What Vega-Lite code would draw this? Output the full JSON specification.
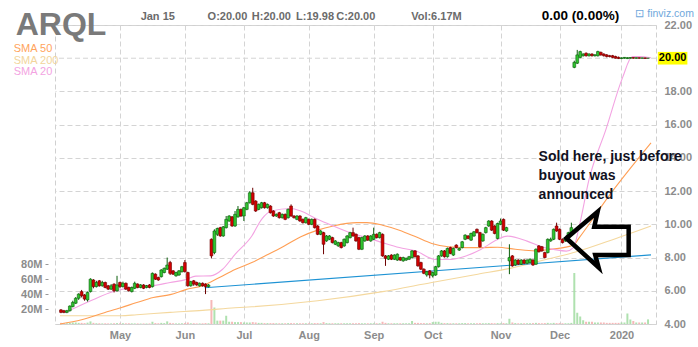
{
"$schema":"https://vega.github.io/schema/vega-lite/v6.json",
"width":601,"height":299,
"autosize":"none",
"padding":{"left":55,"top":25,"right":42,"bottom":23},
"background":"white",
"config":{
 "font":"Liberation Sans",
 "view":{"stroke":"#d0d0d0","strokeDash":[5,3],"strokeWidth":1},
 "axis":{"labelFont":"Liberation Sans","labelFontSize":11,"labelFontWeight":"bold","labelColor":"#8c8c8c","gridColor":"#d4d4d4","gridDash":[5,3],"domain":false,"ticks":false,"title":null,"labelOverlap":false}
},
"datasets":{
"ohlc":[
{"i":0,"o":4.85,"h":4.9,"l":4.65,"c":4.7,"v":1.5},
{"i":1,"o":4.8,"h":4.85,"l":4.65,"c":4.7,"v":1.2},
{"i":2,"o":4.7,"h":4.85,"l":4.65,"c":4.8,"v":1.0},
{"i":3,"o":4.8,"h":5.12,"l":4.75,"c":5.08,"v":1.5},
{"i":4,"o":5.05,"h":5.4,"l":5.0,"c":5.3,"v":2.0},
{"i":5,"o":5.25,"h":5.62,"l":5.2,"c":5.55,"v":2.0},
{"i":6,"o":5.55,"h":5.85,"l":5.45,"c":5.8,"v":1.5},
{"i":7,"o":5.95,"h":6.05,"l":5.6,"c":5.7,"v":1.5},
{"i":8,"o":5.75,"h":5.8,"l":5.4,"c":5.5,"v":1.2},
{"i":9,"o":5.45,"h":5.95,"l":5.35,"c":5.9,"v":1.8},
{"i":10,"o":5.95,"h":6.75,"l":5.9,"c":6.7,"v":3.5},
{"i":11,"o":6.65,"h":6.7,"l":6.15,"c":6.25,"v":1.5},
{"i":12,"o":6.25,"h":6.6,"l":6.2,"c":6.5,"v":1.0},
{"i":13,"o":6.6,"h":6.65,"l":6.25,"c":6.3,"v":1.0},
{"i":14,"o":6.3,"h":6.6,"l":6.25,"c":6.5,"v":0.8},
{"i":15,"o":6.5,"h":6.55,"l":6.15,"c":6.2,"v":0.9},
{"i":16,"o":6.3,"h":6.35,"l":6.05,"c":6.1,"v":0.8},
{"i":17,"o":6.1,"h":6.4,"l":6.05,"c":6.3,"v":0.8},
{"i":18,"o":6.4,"h":6.45,"l":5.9,"c":6.0,"v":1.0},
{"i":19,"o":6.0,"h":6.9,"l":5.95,"c":6.35,"v":1.2},
{"i":20,"o":6.5,"h":6.55,"l":6.15,"c":6.25,"v":1.0},
{"i":21,"o":6.25,"h":6.55,"l":6.2,"c":6.45,"v":1.0},
{"i":22,"o":6.45,"h":6.5,"l":6.05,"c":6.1,"v":0.9},
{"i":23,"o":6.2,"h":6.25,"l":5.95,"c":6.0,"v":1.0},
{"i":24,"o":5.95,"h":6.25,"l":5.9,"c":6.2,"v":0.9},
{"i":25,"o":6.15,"h":6.55,"l":6.1,"c":6.45,"v":0.8},
{"i":26,"o":6.4,"h":6.45,"l":6.15,"c":6.2,"v":0.8},
{"i":27,"o":6.2,"h":6.4,"l":6.15,"c":6.35,"v":0.7},
{"i":28,"o":6.35,"h":6.4,"l":6.1,"c":6.15,"v":0.8},
{"i":29,"o":6.2,"h":6.35,"l":6.15,"c":6.3,"v":0.7},
{"i":30,"o":6.35,"h":6.4,"l":6.15,"c":6.2,"v":0.8},
{"i":31,"o":6.25,"h":7.1,"l":6.2,"c":7.05,"v":3.0},
{"i":32,"o":7.0,"h":7.05,"l":6.65,"c":6.7,"v":1.2},
{"i":33,"o":6.8,"h":6.85,"l":6.6,"c":6.65,"v":1.0},
{"i":34,"o":6.85,"h":7.3,"l":6.8,"c":7.25,"v":1.5},
{"i":35,"o":7.1,"h":7.4,"l":7.05,"c":7.35,"v":1.2},
{"i":36,"o":7.3,"h":8.0,"l":7.25,"c":7.55,"v":3.5},
{"i":37,"o":7.7,"h":7.8,"l":6.95,"c":7.05,"v":1.5},
{"i":38,"o":7.2,"h":7.25,"l":6.95,"c":7.0,"v":1.0},
{"i":39,"o":6.9,"h":7.15,"l":6.85,"c":7.1,"v":0.8},
{"i":40,"o":6.95,"h":7.25,"l":6.9,"c":7.2,"v":0.8},
{"i":41,"o":7.15,"h":7.5,"l":7.1,"c":7.45,"v":1.0},
{"i":42,"o":7.7,"h":7.85,"l":7.1,"c":7.15,"v":1.2},
{"i":43,"o":7.1,"h":7.15,"l":6.25,"c":6.3,"v":2.0},
{"i":44,"o":6.3,"h":6.6,"l":6.25,"c":6.55,"v":1.0},
{"i":45,"o":6.6,"h":6.65,"l":6.3,"c":6.4,"v":1.0},
{"i":46,"o":6.5,"h":6.55,"l":6.3,"c":6.35,"v":0.8},
{"i":47,"o":6.3,"h":6.5,"l":6.25,"c":6.45,"v":0.8},
{"i":48,"o":6.45,"h":6.5,"l":6.25,"c":6.3,"v":0.9},
{"i":49,"o":6.4,"h":6.45,"l":5.8,"c":6.25,"v":1.2},
{"i":50,"o":6.25,"h":6.4,"l":6.2,"c":6.35,"v":1.0},
{"i":51,"o":9.1,"h":9.15,"l":7.95,"c":8.1,"v":32},
{"i":52,"o":8.3,"h":9.7,"l":8.2,"c":9.6,"v":22},
{"i":53,"o":9.4,"h":9.8,"l":9.3,"c":9.75,"v":4.5},
{"i":54,"o":9.8,"h":9.85,"l":9.25,"c":9.3,"v":4.5},
{"i":55,"o":9.3,"h":9.9,"l":9.25,"c":9.85,"v":4.5},
{"i":56,"o":9.8,"h":10.5,"l":9.75,"c":10.3,"v":11},
{"i":57,"o":10.2,"h":10.55,"l":10.15,"c":10.5,"v":3},
{"i":58,"o":10.45,"h":10.5,"l":9.85,"c":9.9,"v":3},
{"i":59,"o":9.9,"h":10.8,"l":9.85,"c":10.6,"v":2.5},
{"i":60,"o":10.45,"h":11.1,"l":10.4,"c":10.9,"v":2.5},
{"i":61,"o":10.9,"h":10.95,"l":10.45,"c":10.5,"v":2.5},
{"i":62,"o":10.5,"h":11.05,"l":10.2,"c":11.0,"v":2},
{"i":63,"o":10.9,"h":11.35,"l":10.85,"c":11.3,"v":2},
{"i":64,"o":11.3,"h":12.0,"l":11.25,"c":11.9,"v":2},
{"i":65,"o":11.9,"h":12.2,"l":11.15,"c":11.2,"v":2.5},
{"i":66,"o":11.4,"h":11.45,"l":10.75,"c":10.8,"v":2},
{"i":67,"o":10.9,"h":11.25,"l":10.85,"c":11.2,"v":1.5},
{"i":68,"o":11.0,"h":11.35,"l":10.95,"c":11.3,"v":1.5},
{"i":69,"o":11.3,"h":11.35,"l":10.95,"c":11.0,"v":1.2},
{"i":70,"o":11.0,"h":11.25,"l":10.95,"c":11.2,"v":1.2},
{"i":71,"o":11.1,"h":11.15,"l":10.65,"c":10.7,"v":1.2},
{"i":72,"o":10.8,"h":10.85,"l":10.45,"c":10.5,"v":1.2},
{"i":73,"o":10.5,"h":10.65,"l":10.45,"c":10.6,"v":1.0},
{"i":74,"o":10.7,"h":10.75,"l":10.35,"c":10.4,"v":1.0},
{"i":75,"o":10.4,"h":10.65,"l":10.35,"c":10.6,"v":1.0},
{"i":76,"o":10.6,"h":10.65,"l":10.25,"c":10.3,"v":1.0},
{"i":77,"o":10.4,"h":10.95,"l":10.35,"c":10.9,"v":1.2},
{"i":78,"o":11.1,"h":11.2,"l":10.45,"c":10.5,"v":1.2},
{"i":79,"o":10.5,"h":10.55,"l":10.35,"c":10.4,"v":1.0},
{"i":80,"o":10.3,"h":10.55,"l":10.25,"c":10.5,"v":1.0},
{"i":81,"o":10.5,"h":10.55,"l":10.15,"c":10.2,"v":1.0},
{"i":82,"o":10.3,"h":10.35,"l":10.05,"c":10.1,"v":1.0},
{"i":83,"o":10.1,"h":10.45,"l":10.05,"c":10.4,"v":1.0},
{"i":84,"o":10.3,"h":10.35,"l":9.95,"c":10.0,"v":1.0},
{"i":85,"o":10.0,"h":10.35,"l":9.95,"c":10.3,"v":1.0},
{"i":86,"o":10.3,"h":10.35,"l":9.75,"c":9.8,"v":1.2},
{"i":87,"o":9.9,"h":9.95,"l":9.35,"c":9.4,"v":1.2},
{"i":88,"o":9.4,"h":9.65,"l":9.35,"c":9.6,"v":1.0},
{"i":89,"o":9.5,"h":9.55,"l":8.2,"c":8.8,"v":2.5},
{"i":90,"o":9.0,"h":9.35,"l":8.95,"c":9.3,"v":1.2},
{"i":91,"o":9.1,"h":9.35,"l":9.05,"c":9.3,"v":1.0},
{"i":92,"o":9.2,"h":9.25,"l":8.85,"c":8.9,"v":1.0},
{"i":93,"o":8.8,"h":9.05,"l":8.75,"c":9.0,"v":1.0},
{"i":94,"o":8.7,"h":8.95,"l":8.65,"c":8.9,"v":1.0},
{"i":95,"o":8.9,"h":8.95,"l":8.55,"c":8.6,"v":1.0},
{"i":96,"o":8.7,"h":9.15,"l":8.65,"c":9.1,"v":1.0},
{"i":97,"o":8.9,"h":9.35,"l":8.85,"c":9.3,"v":1.0},
{"i":98,"o":9.2,"h":9.55,"l":9.15,"c":9.5,"v":1.0},
{"i":99,"o":9.5,"h":9.8,"l":9.25,"c":9.3,"v":1.0},
{"i":100,"o":9.4,"h":9.45,"l":8.95,"c":9.0,"v":1.0},
{"i":101,"o":9.2,"h":9.25,"l":8.45,"c":8.5,"v":1.2},
{"i":102,"o":8.5,"h":9.25,"l":8.45,"c":9.2,"v":1.0},
{"i":103,"o":9.0,"h":9.35,"l":8.95,"c":9.3,"v":1.0},
{"i":104,"o":9.3,"h":9.35,"l":9.0,"c":9.05,"v":1.0},
{"i":105,"o":9.0,"h":9.35,"l":8.95,"c":9.3,"v":1.0},
{"i":106,"o":9.1,"h":9.8,"l":9.05,"c":9.4,"v":1.0},
{"i":107,"o":9.4,"h":9.45,"l":9.15,"c":9.2,"v":1.0},
{"i":108,"o":9.2,"h":9.55,"l":9.15,"c":9.5,"v":1.0},
{"i":109,"o":9.4,"h":9.45,"l":8.05,"c":8.1,"v":3},
{"i":110,"o":8.1,"h":8.15,"l":7.5,"c":7.95,"v":1.5},
{"i":111,"o":7.9,"h":8.15,"l":7.85,"c":8.1,"v":1.0},
{"i":112,"o":8.15,"h":8.2,"l":7.85,"c":7.9,"v":1.0},
{"i":113,"o":7.9,"h":8.2,"l":7.85,"c":8.15,"v":1.0},
{"i":114,"o":7.85,"h":8.25,"l":7.8,"c":8.2,"v":1.0},
{"i":115,"o":8.0,"h":8.05,"l":7.8,"c":7.85,"v":1.0},
{"i":116,"o":7.8,"h":8.05,"l":7.75,"c":8.0,"v":1.0},
{"i":117,"o":7.85,"h":8.0,"l":7.8,"c":7.95,"v":1.0},
{"i":118,"o":7.9,"h":8.1,"l":7.85,"c":8.05,"v":1.0},
{"i":119,"o":8.0,"h":8.45,"l":7.95,"c":8.4,"v":4},
{"i":120,"o":8.4,"h":8.45,"l":8.0,"c":8.05,"v":1.5},
{"i":121,"o":8.1,"h":8.15,"l":7.45,"c":7.5,"v":1.5},
{"i":122,"o":7.7,"h":7.75,"l":7.25,"c":7.3,"v":1.2},
{"i":123,"o":7.3,"h":7.35,"l":7.0,"c":7.05,"v":1.2},
{"i":124,"o":6.95,"h":7.2,"l":6.85,"c":7.15,"v":1.0},
{"i":125,"o":7.2,"h":7.25,"l":6.75,"c":6.95,"v":1.2},
{"i":126,"o":6.9,"h":7.15,"l":6.8,"c":7.1,"v":2.5},
{"i":127,"o":6.95,"h":7.5,"l":6.9,"c":7.45,"v":3},
{"i":128,"o":7.45,"h":8.15,"l":7.4,"c":8.1,"v":3},
{"i":129,"o":8.1,"h":8.45,"l":8.05,"c":8.4,"v":1.5},
{"i":130,"o":8.4,"h":8.45,"l":8.0,"c":8.05,"v":1.2},
{"i":131,"o":8.05,"h":8.6,"l":8.0,"c":8.55,"v":1.2},
{"i":132,"o":8.6,"h":8.65,"l":8.2,"c":8.25,"v":1.0},
{"i":133,"o":8.15,"h":8.6,"l":8.1,"c":8.55,"v":1.0},
{"i":134,"o":8.75,"h":8.8,"l":8.55,"c":8.6,"v":1.0},
{"i":135,"o":8.45,"h":8.6,"l":8.4,"c":8.55,"v":1.0},
{"i":136,"o":8.6,"h":9.0,"l":8.55,"c":8.95,"v":1.2},
{"i":137,"o":9.1,"h":9.4,"l":9.05,"c":9.35,"v":1.2},
{"i":138,"o":9.3,"h":9.35,"l":9.1,"c":9.15,"v":1.0},
{"i":139,"o":9.05,"h":9.5,"l":9.0,"c":9.45,"v":1.0},
{"i":140,"o":9.3,"h":9.6,"l":9.25,"c":9.55,"v":1.0},
{"i":141,"o":9.7,"h":9.75,"l":9.45,"c":9.5,"v":1.0},
{"i":142,"o":9.5,"h":9.55,"l":8.6,"c":8.65,"v":1.2},
{"i":143,"o":9.0,"h":9.45,"l":8.95,"c":9.4,"v":1.0},
{"i":144,"o":9.5,"h":9.85,"l":9.45,"c":9.8,"v":1.0},
{"i":145,"o":9.9,"h":10.25,"l":9.85,"c":10.2,"v":1.2},
{"i":146,"o":10.2,"h":10.25,"l":9.6,"c":9.65,"v":1.2},
{"i":147,"o":9.9,"h":9.95,"l":9.4,"c":9.45,"v":1.0},
{"i":148,"o":9.15,"h":10.1,"l":9.1,"c":10.05,"v":1.2},
{"i":149,"o":10.0,"h":10.35,"l":9.95,"c":10.2,"v":1.0},
{"i":150,"o":10.3,"h":10.35,"l":9.6,"c":9.65,"v":1.2},
{"i":151,"o":9.6,"h":9.85,"l":9.55,"c":9.8,"v":1.0},
{"i":152,"o":7.8,"h":8.8,"l":7.0,"c":8.0,"v":7},
{"i":153,"o":8.1,"h":8.15,"l":7.45,"c":7.5,"v":2},
{"i":154,"o":7.55,"h":7.9,"l":7.5,"c":7.85,"v":1.2},
{"i":155,"o":7.85,"h":7.9,"l":7.55,"c":7.6,"v":1.0},
{"i":156,"o":7.6,"h":7.9,"l":7.55,"c":7.85,"v":1.0},
{"i":157,"o":7.85,"h":7.9,"l":7.6,"c":7.65,"v":1.0},
{"i":158,"o":7.65,"h":7.9,"l":7.6,"c":7.85,"v":1.0},
{"i":159,"o":7.7,"h":7.95,"l":7.65,"c":7.9,"v":1.0},
{"i":160,"o":7.85,"h":7.9,"l":7.5,"c":7.55,"v":1.2},
{"i":161,"o":7.6,"h":8.55,"l":7.55,"c":8.5,"v":1.5},
{"i":162,"o":8.7,"h":8.75,"l":8.3,"c":8.35,"v":1.2},
{"i":163,"o":8.65,"h":8.7,"l":8.35,"c":8.4,"v":1.0},
{"i":164,"o":8.3,"h":8.35,"l":7.95,"c":8.0,"v":1.2},
{"i":165,"o":8.3,"h":9.15,"l":8.25,"c":9.1,"v":1.5},
{"i":166,"o":9.0,"h":9.2,"l":8.95,"c":9.1,"v":1.0},
{"i":167,"o":9.1,"h":9.75,"l":9.05,"c":9.7,"v":1.5},
{"i":168,"o":9.9,"h":10.1,"l":9.55,"c":9.6,"v":1.2},
{"i":169,"o":9.7,"h":9.75,"l":9.05,"c":9.1,"v":1.2},
{"i":170,"o":9.1,"h":9.15,"l":8.85,"c":8.9,"v":1.0},
{"i":171,"o":9.0,"h":9.25,"l":8.95,"c":9.2,"v":1.0},
{"i":172,"o":9.2,"h":9.55,"l":9.15,"c":9.5,"v":1.0},
{"i":173,"o":9.45,"h":10.1,"l":9.4,"c":9.8,"v":1.5},
{"i":174,"o":19.45,"h":19.85,"l":19.4,"c":19.75,"v":68},
{"i":175,"o":19.7,"h":20.5,"l":19.65,"c":20.2,"v":15},
{"i":176,"o":20.05,"h":20.45,"l":20.0,"c":20.4,"v":10},
{"i":177,"o":20.15,"h":20.3,"l":20.1,"c":20.25,"v":5},
{"i":178,"o":20.3,"h":20.35,"l":20.1,"c":20.15,"v":3},
{"i":179,"o":20.15,"h":20.3,"l":20.1,"c":20.25,"v":3},
{"i":180,"o":20.25,"h":20.3,"l":20.1,"c":20.15,"v":3},
{"i":181,"o":20.15,"h":20.25,"l":20.1,"c":20.2,"v":2},
{"i":182,"o":20.15,"h":20.45,"l":20.1,"c":20.4,"v":2},
{"i":183,"o":20.35,"h":20.4,"l":20.15,"c":20.2,"v":2},
{"i":184,"o":20.25,"h":20.3,"l":20.1,"c":20.15,"v":2},
{"i":185,"o":20.2,"h":20.25,"l":20.05,"c":20.1,"v":1.5},
{"i":186,"o":20.15,"h":20.2,"l":20.05,"c":20.1,"v":1.5},
{"i":187,"o":20.15,"h":20.2,"l":20.0,"c":20.05,"v":1.5},
{"i":188,"o":20.1,"h":20.15,"l":19.98,"c":20.0,"v":1.5},
{"i":189,"o":20.05,"h":20.1,"l":19.95,"c":19.98,"v":1.5},
{"i":190,"o":19.98,"h":20.05,"l":19.95,"c":20.02,"v":2},
{"i":191,"o":20.0,"h":20.07,"l":19.97,"c":20.05,"v":2},
{"i":192,"o":19.98,"h":20.06,"l":19.95,"c":20.03,"v":14},
{"i":193,"o":20.0,"h":20.06,"l":19.97,"c":20.04,"v":6},
{"i":194,"o":20.04,"h":20.06,"l":19.97,"c":20.0,"v":4},
{"i":195,"o":20.0,"h":20.05,"l":19.97,"c":20.03,"v":2},
{"i":196,"o":20.03,"h":20.05,"l":19.97,"c":20.0,"v":2},
{"i":197,"o":20.0,"h":20.04,"l":19.97,"c":20.02,"v":2},
{"i":198,"o":20.02,"h":20.04,"l":19.96,"c":19.99,"v":2},
{"i":199,"o":20.0,"h":20.0,"l":19.98,"c":20.0,"v":6.17}
],
"sma":[
{"s":"s200","i":-0.33,"p":4.5},{"s":"s200","i":20.3,"p":4.5},{"s":"s200","i":25.7,"p":4.56},{"s":"s200","i":37,"p":4.7},{"s":"s200","i":48,"p":4.82},{"s":"s200","i":59,"p":4.98},{"s":"s200","i":64.7,"p":5.04},{"s":"s200","i":87,"p":5.4},{"s":"s200","i":109,"p":5.95},{"s":"s200","i":125.7,"p":6.5},{"s":"s200","i":141.3,"p":7.0},{"s":"s200","i":152.3,"p":7.35},{"s":"s200","i":163.7,"p":7.85},{"s":"s200","i":174.7,"p":8.35},{"s":"s200","i":185.7,"p":9.0},{"s":"s200","i":200,"p":9.9},
{"s":"s50","i":-0.33,"p":4.0},{"s":"s50","i":7,"p":4.26},{"s":"s50","i":14.7,"p":4.68},{"s":"s50","i":20.3,"p":4.98},{"s":"s50","i":25.7,"p":5.29},{"s":"s50","i":31.3,"p":5.59},{"s":"s50","i":37,"p":5.77},{"s":"s50","i":42.3,"p":6.07},{"s":"s50","i":48,"p":6.31},{"s":"s50","i":53.7,"p":6.8},{"s":"s50","i":59,"p":7.28},{"s":"s50","i":64.7,"p":7.7},{"s":"s50","i":70.3,"p":8.2},{"s":"s50","i":75.7,"p":8.7},{"s":"s50","i":81.3,"p":9.25},{"s":"s50","i":87,"p":9.65},{"s":"s50","i":92.3,"p":9.9},{"s":"s50","i":100.3,"p":10.1},{"s":"s50","i":103.7,"p":10.1},{"s":"s50","i":109,"p":9.95},{"s":"s50","i":114.7,"p":9.65},{"s":"s50","i":120.3,"p":9.25},{"s":"s50","i":125.7,"p":8.85},{"s":"s50","i":131.3,"p":8.65},{"s":"s50","i":137,"p":8.6},{"s":"s50","i":143,"p":8.6},{"s":"s50","i":148,"p":8.62},{"s":"s50","i":154,"p":8.5},{"s":"s50","i":160.7,"p":8.4},{"s":"s50","i":163.7,"p":8.45},{"s":"s50","i":170.3,"p":8.6},{"s":"s50","i":173.7,"p":8.75},{"s":"s50","i":175.7,"p":9.2},{"s":"s50","i":185.7,"p":11.7},{"s":"s50","i":200,"p":14.9},
{"s":"s20","i":1.3,"p":4.68},{"s":"s20","i":9.7,"p":5.37},{"s":"s20","i":18,"p":5.97},{"s":"s20","i":25.7,"p":6.25},{"s":"s20","i":31.3,"p":6.31},{"s":"s20","i":37,"p":6.5},{"s":"s20","i":42.3,"p":6.67},{"s":"s20","i":45.7,"p":6.88},{"s":"s20","i":50.7,"p":6.9},{"s":"s20","i":54.7,"p":7.28},{"s":"s20","i":59,"p":8.19},{"s":"s20","i":64.7,"p":9.3},{"s":"s20","i":68,"p":10.3},{"s":"s20","i":71.3,"p":10.8},{"s":"s20","i":78,"p":10.95},{"s":"s20","i":81.3,"p":10.8},{"s":"s20","i":87,"p":10.3},{"s":"s20","i":92.3,"p":9.9},{"s":"s20","i":98,"p":9.5},{"s":"s20","i":103.7,"p":9.2},{"s":"s20","i":109,"p":8.9},{"s":"s20","i":114.7,"p":8.6},{"s":"s20","i":120.3,"p":8.39},{"s":"s20","i":127,"p":7.88},{"s":"s20","i":131.3,"p":7.88},{"s":"s20","i":137,"p":8.08},{"s":"s20","i":142.3,"p":8.49},{"s":"s20","i":148,"p":9.09},{"s":"s20","i":151.3,"p":9.29},{"s":"s20","i":158,"p":8.99},{"s":"s20","i":163.7,"p":8.6},{"s":"s20","i":167,"p":8.49},{"s":"s20","i":171.3,"p":8.39},{"s":"s20","i":173.7,"p":8.6},{"s":"s20","i":175.7,"p":9.9},{"s":"s20","i":179,"p":12.7},{"s":"s20","i":184.7,"p":15.7},{"s":"s20","i":190.3,"p":18.8},{"s":"s20","i":193.7,"p":20.1},{"s":"s20","i":196,"p":20.1},{"s":"s20","i":200,"p":20.03},
{"s":"trend","i":48.7,"p":6.18},{"s":"trend","i":200,"p":8.16}
],
"arrow":[
{"k":0,"i":171.33,"p":9.16},{"k":1,"i":181.9,"p":10.76},{"k":2,"i":180.77,"p":9.86},{"k":3,"i":192.43,"p":9.86},{"k":4,"i":192.43,"p":8.15},{"k":5,"i":181.1,"p":8.15},{"k":6,"i":182.23,"p":7.41},{"k":7,"i":171.33,"p":9.16}
]
},
"layer":[
 {"data":{"name":"ohlc"},
  "mark":{"type":"bar","size":2,"opacity":0.9},
  "encoding":{
   "x":{"field":"i","type":"quantitative","scale":{"domain":[-0.33,200],"nice":false,"zero":false},
        "axis":{"orient":"bottom","title":null,"values":[20,42,62,84,106,126,149,169,190],"grid":true,"labelPadding":5,"labelOverlap":false,
        "labelExpr":"datum.value==20?'May':datum.value==42?'Jun':datum.value==62?'Jul':datum.value==84?'Aug':datum.value==106?'Sep':datum.value==126?'Oct':datum.value==149?'Nov':datum.value==169?'Dec':'2020'"}},
   "y":{"field":"v","type":"quantitative","scale":{"domain":[0,398.7],"nice":false,"zero":false},
        "axis":{"orient":"left","title":null,"values":[20,40,60,80],"labelExpr":"datum.value + 'M'","grid":false,"ticks":true,"tickSize":3,"tickColor":"#999999","offset":7,"labelPadding":3,"labelOverlap":false}},
   "color":{"condition":{"test":"datum.c >= datum.o","value":"#a6dea6"},"value":"#f5b0b0"}
  }},
 {"layer":[
  {"data":{"values":[{}]},
   "mark":{"type":"rule","stroke":"#d4d4d4","strokeDash":[5,3]},
   "encoding":{"y":{"datum":20,"type":"quantitative","scale":{"domain":[4,22],"nice":false,"zero":false}}}},
  {"data":{"name":"sma"},
   "mark":{"type":"line","strokeWidth":1.1,"interpolate":"monotone"},
   "encoding":{
    "x":{"field":"i","type":"quantitative","scale":{"domain":[-0.33,200],"nice":false,"zero":false}},
    "y":{"field":"p","type":"quantitative","scale":{"domain":[4,22],"nice":false,"zero":false}},
    "color":{"field":"s","type":"nominal","scale":{"domain":["s20","s50","s200","trend"],"range":["#f3a3e2","#ff9f55","#f4d89e","#1e93d4"]},"legend":null}
   }},
  {"data":{"name":"ohlc"},
   "mark":{"type":"rule","strokeWidth":1},
   "encoding":{
    "x":{"field":"i","type":"quantitative","scale":{"domain":[-0.33,200],"nice":false,"zero":false}},
    "y":{"field":"l","type":"quantitative","scale":{"domain":[4,22],"nice":false,"zero":false}},
    "y2":{"field":"h"},
    "color":{"condition":{"test":"datum.c >= datum.o","value":"#0b5e0b"},"value":"#6e0000"}
   }},
  {"data":{"name":"ohlc"},
   "mark":{"type":"bar","size":2.8,"strokeWidth":0.6},
   "encoding":{
    "x":{"field":"i","type":"quantitative","scale":{"domain":[-0.33,200],"nice":false,"zero":false}},
    "y":{"field":"o","type":"quantitative","scale":{"domain":[4,22],"nice":false,"zero":false},
         "axis":{"orient":"right","title":null,"values":[4,6,8,10,12,14,16,18,22],"format":".2f","grid":true,"labelPadding":8,"labelOverlap":false,"tickCount":10}},
    "y2":{"field":"c"},
    "fill":{"condition":{"test":"datum.c >= datum.o","value":"#2fc42f"},"value":"#d40000"},
    "stroke":{"condition":{"test":"datum.c >= datum.o","value":"#0b5e0b"},"value":"#6e0000"}
   }},
  {"data":{"name":"arrow"},
   "mark":{"type":"line","strokeWidth":4.5,"color":"#000000","strokeJoin":"miter","strokeCap":"square"},
   "encoding":{
    "x":{"field":"i","type":"quantitative","scale":{"domain":[-0.33,200],"nice":false,"zero":false}},
    "y":{"field":"p","type":"quantitative","scale":{"domain":[4,22],"nice":false,"zero":false}},
    "order":{"field":"k"}
   }},
  {"data":{"values":[{}]},
   "mark":{"type":"text","text":["Sold here, just before","buyout was","announced"],"font":"Liberation Sans","fontSize":14,"fontWeight":"bold","color":"#111122","align":"left","baseline":"alphabetic","lineHeight":19},
   "encoding":{"x":{"datum":161.9,"type":"quantitative","scale":{"domain":[-0.33,200],"nice":false,"zero":false}},
               "y":{"datum":13.81,"type":"quantitative","scale":{"domain":[4,22],"nice":false,"zero":false}}}},
  {"data":{"values":[{}]},
   "mark":{"type":"text","text":"ARQL","fontSize":32,"fontWeight":"bold","color":"#7a7a7a","align":"left","baseline":"alphabetic"},
   "encoding":{"x":{"datum":-15.33,"type":"quantitative","scale":{"domain":[-0.33,200],"nice":false,"zero":false}},
               "y":{"datum":21.4,"type":"quantitative","scale":{"domain":[4,22],"nice":false,"zero":false}}}},
  {"data":{"values":[{}]},
   "mark":{"type":"text","text":"SMA 50","fontSize":11,"color":"#ffa45c","align":"left","baseline":"alphabetic"},
   "encoding":{"x":{"datum":-16,"type":"quantitative","scale":{"domain":[-0.33,200],"nice":false,"zero":false}},
               "y":{"datum":20.4,"type":"quantitative","scale":{"domain":[4,22],"nice":false,"zero":false}}}},
  {"data":{"values":[{}]},
   "mark":{"type":"text","text":"SMA 200","fontSize":11,"color":"#f2d59c","align":"left","baseline":"alphabetic"},
   "encoding":{"x":{"datum":-16,"type":"quantitative","scale":{"domain":[-0.33,200],"nice":false,"zero":false}},
               "y":{"datum":19.68,"type":"quantitative","scale":{"domain":[4,22],"nice":false,"zero":false}}}},
  {"data":{"values":[{}]},
   "mark":{"type":"text","text":"SMA 20","fontSize":11,"color":"#f3a3e2","align":"left","baseline":"alphabetic"},
   "encoding":{"x":{"datum":-16,"type":"quantitative","scale":{"domain":[-0.33,200],"nice":false,"zero":false}},
               "y":{"datum":18.96,"type":"quantitative","scale":{"domain":[4,22],"nice":false,"zero":false}}}},
  {"data":{"values":[{}]},
   "mark":{"type":"text","text":"Jan 15","fontSize":11,"fontWeight":"bold","color":"#6b6b6b","align":"left","baseline":"alphabetic"},
   "encoding":{"x":{"datum":27,"type":"quantitative","scale":{"domain":[-0.33,200],"nice":false,"zero":false}},
               "y":{"datum":22.3,"type":"quantitative","scale":{"domain":[4,22],"nice":false,"zero":false}}}},
  {"data":{"values":[{}]},
   "mark":{"type":"text","text":"O:20.00","fontSize":11,"fontWeight":"bold","color":"#6b6b6b","align":"left","baseline":"alphabetic"},
   "encoding":{"x":{"datum":49.7,"type":"quantitative","scale":{"domain":[-0.33,200],"nice":false,"zero":false}},
               "y":{"datum":22.3,"type":"quantitative","scale":{"domain":[4,22],"nice":false,"zero":false}}}},
  {"data":{"values":[{}]},
   "mark":{"type":"text","text":"H:20.00","fontSize":11,"fontWeight":"bold","color":"#6b6b6b","align":"left","baseline":"alphabetic"},
   "encoding":{"x":{"datum":64.7,"type":"quantitative","scale":{"domain":[-0.33,200],"nice":false,"zero":false}},
               "y":{"datum":22.3,"type":"quantitative","scale":{"domain":[4,22],"nice":false,"zero":false}}}},
  {"data":{"values":[{}]},
   "mark":{"type":"text","text":"L:19.98","fontSize":11,"fontWeight":"bold","color":"#6b6b6b","align":"left","baseline":"alphabetic"},
   "encoding":{"x":{"datum":79.7,"type":"quantitative","scale":{"domain":[-0.33,200],"nice":false,"zero":false}},
               "y":{"datum":22.3,"type":"quantitative","scale":{"domain":[4,22],"nice":false,"zero":false}}}},
  {"data":{"values":[{}]},
   "mark":{"type":"text","text":"C:20.00","fontSize":11,"fontWeight":"bold","color":"#6b6b6b","align":"left","baseline":"alphabetic"},
   "encoding":{"x":{"datum":93.3,"type":"quantitative","scale":{"domain":[-0.33,200],"nice":false,"zero":false}},
               "y":{"datum":22.3,"type":"quantitative","scale":{"domain":[4,22],"nice":false,"zero":false}}}},
  {"data":{"values":[{}]},
   "mark":{"type":"text","text":"Vol:6.17M","fontSize":11,"fontWeight":"bold","color":"#6b6b6b","align":"left","baseline":"alphabetic"},
   "encoding":{"x":{"datum":118.7,"type":"quantitative","scale":{"domain":[-0.33,200],"nice":false,"zero":false}},
               "y":{"datum":22.3,"type":"quantitative","scale":{"domain":[4,22],"nice":false,"zero":false}}}},
  {"data":{"values":[{}]},
   "mark":{"type":"text","text":"0.00 (0.00%)","fontSize":13.5,"fontWeight":"bold","color":"#000000","align":"left","baseline":"alphabetic"},
   "encoding":{"x":{"datum":163,"type":"quantitative","scale":{"domain":[-0.33,200],"nice":false,"zero":false}},
               "y":{"datum":22.3,"type":"quantitative","scale":{"domain":[4,22],"nice":false,"zero":false}}}},
  {"data":{"values":[{}]},
   "mark":{"type":"text","text":"⊡ finviz.com","fontSize":10.5,"color":"#6fa8dc","align":"left","baseline":"alphabetic"},
   "encoding":{"x":{"datum":194.7,"type":"quantitative","scale":{"domain":[-0.33,200],"nice":false,"zero":false}},
               "y":{"datum":22.48,"type":"quantitative","scale":{"domain":[4,22],"nice":false,"zero":false}}}},
  {"data":{"values":[{}]},
   "mark":{"type":"rect","color":"#ffff00"},
   "encoding":{"x":{"datum":202.33,"type":"quantitative","scale":{"domain":[-0.33,200],"nice":false,"zero":false}},
               "x2":{"datum":212.33},
               "y":{"datum":20.38,"type":"quantitative","scale":{"domain":[4,22],"nice":false,"zero":false}},
               "y2":{"datum":19.62}}},
  {"data":{"values":[{}]},
   "mark":{"type":"text","text":"20.00","fontSize":11,"fontWeight":"bold","color":"#000000","align":"center","baseline":"middle"},
   "encoding":{"x":{"datum":207.33,"type":"quantitative","scale":{"domain":[-0.33,200],"nice":false,"zero":false}},
               "y":{"datum":20,"type":"quantitative","scale":{"domain":[4,22],"nice":false,"zero":false}}}}
 ]}
],
"resolve":{"scale":{"y":"independent"}}
}
